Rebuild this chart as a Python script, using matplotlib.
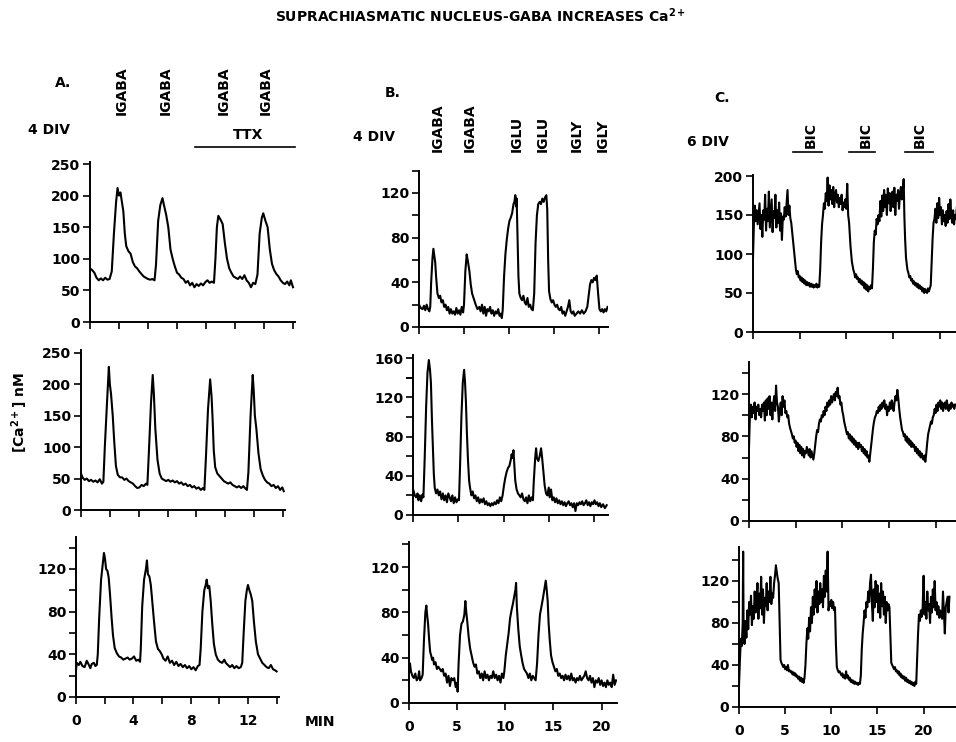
import matplotlib
matplotlib.use('Agg')
import matplotlib.pyplot as plt
from matplotlib.ticker import FixedLocator
from matplotlib.lines import Line2D

plt.rcParams['font.family'] = ['DejaVu Sans']
plt.rcParams['mathtext.default'] = 'regular'

# ---------------- data (time in min, [Ca2+] in nM) ----------------
A1 = [(0.0,85),(0.15,82),(0.3,78),(0.45,70),(0.6,66),(0.75,69),(0.9,66),(1.05,70),(1.2,67),(1.35,68),
      (1.5,80),(1.65,140),(1.8,190),(1.9,212),(2.0,200),(2.1,205),(2.2,190),(2.3,175),(2.4,140),(2.5,120),
      (2.65,112),(2.8,108),(2.95,95),(3.1,88),(3.25,85),(3.4,80),(3.55,76),(3.7,72),(3.85,70),(4.0,68),
      (4.15,67),(4.3,68),(4.45,66),(4.55,90),(4.7,160),(4.85,185),(5.0,196),(5.1,185),(5.25,170),(5.4,150),
      (5.55,115),(5.7,100),(5.85,88),(6.0,78),(6.15,75),(6.3,70),(6.45,68),(6.6,62),(6.75,65),(6.9,58),
      (7.05,62),(7.2,55),(7.35,60),(7.5,57),(7.65,61),(7.8,58),(7.95,63),(8.1,66),(8.25,62),(8.4,64),
      (8.55,62),(8.65,100),(8.75,150),(8.85,168),(9.0,162),(9.15,155),(9.3,125),(9.45,100),(9.6,85),
      (9.75,78),(9.9,72),(10.05,70),(10.2,68),(10.35,72),(10.5,68),(10.65,74),(10.8,66),(10.95,62),
      (11.1,55),(11.25,62),(11.4,60),(11.55,75),(11.7,140),(11.85,165),(11.95,172),(12.1,160),(12.25,150),
      (12.4,115),(12.55,92),(12.7,82),(12.85,76),(13.0,72),(13.15,66),(13.3,62),(13.45,60),(13.6,64),
      (13.75,58),(13.85,66),(14.0,55)]

A2 = [(0.0,58),(0.1,52),(0.25,48),(0.4,50),(0.55,46),(0.7,48),(0.85,45),(1.0,47),(1.15,44),(1.3,49),
      (1.45,42),(1.55,45),(1.65,100),(1.8,170),(1.93,228),(2.0,200),(2.08,185),(2.2,150),(2.3,110),
      (2.42,70),(2.55,56),(2.7,52),(2.85,52),(3.0,48),(3.15,50),(3.3,46),(3.45,44),(3.6,42),(3.75,38),
      (3.9,35),(4.05,36),(4.2,40),(4.35,38),(4.5,42),(4.6,40),(4.7,90),(4.85,170),(4.97,215),(5.05,185),
      (5.15,130),(5.3,80),(5.45,58),(5.6,50),(5.75,48),(5.9,46),(6.05,48),(6.2,45),(6.35,47),(6.5,44),
      (6.65,46),(6.8,42),(6.95,44),(7.1,40),(7.25,42),(7.4,38),(7.55,40),(7.7,36),(7.85,38),(8.0,34),
      (8.15,36),(8.3,32),(8.45,35),(8.55,32),(8.65,80),(8.8,160),(8.95,208),(9.05,180),(9.12,145),
      (9.2,95),(9.3,68),(9.45,58),(9.6,54),(9.75,50),(9.9,46),(10.05,44),(10.2,42),(10.35,44),(10.5,40),
      (10.65,38),(10.8,36),(10.95,38),(11.1,35),(11.25,38),(11.4,34),(11.5,32),(11.6,60),(11.75,150),
      (11.9,215),(11.97,190),(12.05,150),(12.15,130),(12.3,90),(12.45,65),(12.6,55),(12.75,48),(12.9,44),
      (13.05,42),(13.2,38),(13.35,40),(13.5,35),(13.65,38),(13.8,32),(13.95,36),(14.05,30)]

A3 = [(0.0,25),(0.05,32),(0.2,30),(0.3,33),(0.45,29),(0.6,28),(0.75,34),(0.9,30),(1.0,27),(1.1,31),
      (1.25,32),(1.35,29),(1.45,30),(1.52,40),(1.62,75),(1.75,110),(1.87,125),(1.95,135),(2.02,130),
      (2.1,120),(2.2,118),(2.28,112),(2.38,95),(2.48,75),(2.58,58),(2.7,46),(2.85,41),(3.0,38),(3.15,37),
      (3.3,35),(3.45,36),(3.6,37),(3.75,35),(3.9,36),(4.05,38),(4.2,34),(4.35,35),(4.47,33),(4.52,45),
      (4.62,85),(4.75,110),(4.88,120),(4.95,128),(5.02,115),(5.12,113),(5.22,105),(5.32,90),(5.45,70),
      (5.58,52),(5.72,45),(5.85,43),(5.98,40),(6.1,36),(6.25,34),(6.4,38),(6.55,32),(6.7,34),(6.85,30),
      (7.0,33),(7.15,29),(7.3,31),(7.45,28),(7.6,30),(7.75,27),(7.9,29),(8.05,26),(8.2,28),(8.35,25),
      (8.5,29),(8.62,30),(8.7,45),(8.82,80),(8.95,100),(9.05,105),(9.12,110),(9.2,102),(9.3,104),(9.4,90),
      (9.5,70),(9.62,50),(9.75,40),(9.9,35),(10.05,33),(10.2,32),(10.35,35),(10.45,32),(10.6,30),
      (10.75,28),(10.9,30),(11.05,27),(11.2,29),(11.35,27),(11.5,28),(11.6,32),(11.7,60),(11.82,90),
      (11.92,100),(12.0,105),(12.1,100),(12.2,96),(12.3,90),(12.42,70),(12.55,52),(12.7,40),(12.85,36),
      (13.0,32),(13.15,30),(13.3,28),(13.45,27),(13.6,30),(13.75,26),(13.9,25),(14.0,24)]

B1 = [(0.0,20),(0.2,17),(0.4,16),(0.55,19),(0.7,15),(0.85,20),(1.0,16),(1.15,14),(1.25,18),(1.35,40),
      (1.5,62),(1.6,70),(1.7,64),(1.8,58),(1.9,45),(2.05,30),(2.2,26),(2.35,28),(2.5,22),(2.65,24),
      (2.8,18),(2.95,20),(3.1,15),(3.25,18),(3.4,12),(3.55,16),(3.7,12),(3.85,14),(4.0,11),(4.15,17),
      (4.3,12),(4.45,15),(4.6,11),(4.75,18),(4.9,13),(5.0,20),(5.15,50),(5.3,65),(5.45,58),(5.6,50),
      (5.75,38),(5.9,30),(6.1,25),(6.3,20),(6.5,16),(6.7,18),(6.85,14),(7.0,20),(7.15,12),(7.3,18),
      (7.45,10),(7.6,16),(7.75,14),(7.9,18),(8.05,12),(8.2,15),(8.35,10),(8.5,14),(8.65,12),(8.8,16),
      (8.95,10),(9.1,12),(9.2,8),(9.3,15),(9.45,45),(9.6,65),(9.75,78),(9.9,88),(10.05,95),(10.2,98),
      (10.35,102),(10.5,110),(10.6,112),(10.7,118),(10.78,108),(10.85,115),(10.95,80),(11.05,45),
      (11.15,30),(11.3,26),(11.45,24),(11.6,28),(11.75,22),(11.9,20),(12.05,26),(12.2,18),(12.35,20),
      (12.5,16),(12.65,15),(12.8,30),(12.95,75),(13.1,100),(13.25,110),(13.4,112),(13.55,110),(13.7,115),
      (13.85,112),(14.0,116),(14.15,118),(14.25,105),(14.35,60),(14.45,32),(14.6,25),(14.75,22),
      (14.9,24),(15.05,20),(15.2,18),(15.35,20),(15.5,16),(15.65,15),(15.8,18),(15.95,12),(16.1,14),
      (16.25,10),(16.4,14),(16.55,18),(16.7,24),(16.85,14),(17.0,12),(17.15,14),(17.3,10),(17.5,12),
      (17.7,14),(17.9,12),(18.1,15),(18.3,12),(18.5,14),(18.7,18),(18.85,28),(19.0,38),(19.15,42),
      (19.3,40),(19.45,44),(19.6,42),(19.75,46),(19.9,30),(20.05,16),(20.2,14),(20.35,16),(20.5,13),
      (20.65,16),(20.8,14),(20.95,18)]

B2 = [(0.05,25),(0.2,20),(0.35,18),(0.5,22),(0.6,15),(0.75,20),(0.9,14),(1.05,21),(1.15,18),
      (1.3,60),(1.45,110),(1.6,145),(1.75,158),(1.88,148),(1.98,135),(2.1,95),(2.2,70),(2.3,42),(2.4,28),
      (2.55,22),(2.7,26),(2.85,20),(3.0,24),(3.15,16),(3.3,22),(3.45,15),(3.6,20),(3.75,13),(3.9,22),
      (4.05,18),(4.2,14),(4.35,20),(4.5,12),(4.65,18),(4.8,13),(4.95,16),(5.08,15),
      (5.2,50),(5.35,100),(5.5,135),(5.65,148),(5.75,135),(5.85,115),(5.95,85),(6.08,55),(6.2,35),(6.3,28),
      (6.45,20),(6.6,24),(6.75,17),(6.9,20),(7.05,14),(7.2,18),(7.35,12),(7.5,16),(7.65,13),(7.8,17),
      (7.95,11),(8.1,14),(8.25,10),(8.4,12),(8.55,9),(8.7,12),(8.85,10),(9.0,13),(9.15,11),(9.3,15),
      (9.45,12),(9.6,18),(9.75,14),(9.9,20),
      (10.05,30),(10.2,38),(10.35,44),(10.5,48),(10.65,50),(10.8,56),(10.9,62),(11.0,58),(11.1,66),
      (11.2,50),(11.3,35),(11.45,26),
      (11.6,22),(11.75,20),(11.9,18),(12.05,22),(12.2,16),(12.35,14),(12.5,18),(12.65,12),(12.8,20),
      (12.95,14),(13.1,18),(13.25,15),
      (13.35,35),(13.5,58),(13.6,68),(13.7,58),(13.85,55),(14.0,60),(14.15,68),(14.25,60),(14.4,45),
      (14.55,30),(14.7,22),
      (14.85,20),(15.0,28),(15.1,18),(15.25,26),(15.4,15),(15.55,18),(15.7,13),(15.85,17),(16.0,12),
      (16.15,15),(16.3,11),(16.45,14),(16.6,10),(16.75,13),(16.9,9),(17.05,12),(17.2,14),(17.35,10),
      (17.5,12),(17.65,8),(17.8,12),(17.95,4),(18.1,12),(18.25,10),(18.4,13),(18.55,11),(18.7,14),
      (18.85,10),(19.0,12),(19.15,15),(19.3,10),(19.45,13),(19.6,9),(19.75,13),(19.9,11),(20.05,15),
      (20.2,11),(20.35,13),(20.5,9),(20.65,12),(20.8,8),(21.0,11),(21.2,7),(21.4,10)]

B3 = [(0.0,26),(0.1,35),(0.2,28),(0.35,24),(0.5,22),(0.65,26),(0.8,20),(0.95,22),(1.05,28),(1.15,20),
      (1.3,22),(1.42,25),(1.55,55),(1.7,80),(1.8,86),(1.88,78),(1.98,70),(2.1,55),(2.2,45),(2.3,42),
      (2.4,38),(2.5,40),(2.6,34),(2.75,36),(2.9,30),(3.05,32),(3.2,30),(3.35,28),(3.5,30),(3.65,24),
      (3.8,26),(3.95,18),(4.1,24),(4.25,15),(4.4,22),(4.55,20),(4.7,22),(4.85,14),(5.0,18),(5.05,10),
      (5.15,35),(5.3,60),(5.45,70),(5.6,72),(5.75,78),(5.85,90),(5.95,80),(6.05,72),(6.2,58),(6.35,48),
      (6.5,42),(6.65,36),(6.8,32),(6.95,34),(7.1,26),(7.25,28),(7.4,22),(7.55,26),(7.7,20),(7.85,28),
      (8.0,22),(8.15,25),(8.3,20),(8.45,24),(8.6,22),(8.75,28),(8.9,22),(9.05,25),(9.2,20),(9.35,24),
      (9.5,18),(9.65,26),(9.8,22),(9.9,28),(10.05,42),(10.2,52),(10.35,62),(10.5,75),(10.65,82),
      (10.8,88),(10.95,95),(11.05,100),(11.12,106),(11.2,85),(11.35,65),(11.5,50),(11.65,42),(11.8,35),
      (11.95,30),(12.1,28),(12.25,26),(12.4,22),(12.55,26),(12.7,20),(12.85,24),(13.0,22),(13.15,20),
      (13.3,35),(13.45,60),(13.6,78),(13.75,85),(13.9,92),(14.05,100),(14.2,108),(14.3,100),(14.4,90),
      (14.5,70),(14.62,55),(14.75,42),(14.9,36),(15.05,32),(15.2,28),(15.35,30),(15.5,24),(15.65,26),
      (15.8,22),(15.95,24),(16.1,20),(16.25,25),(16.4,21),(16.55,24),(16.7,20),(16.85,26),(17.0,20),
      (17.15,22),(17.3,18),(17.45,22),(17.6,20),(17.75,24),(17.9,20),(18.05,22),(18.2,24),(18.35,28),
      (18.5,22),(18.65,20),(18.8,24),(18.95,18),(19.1,22),(19.25,14),(19.4,20),(19.55,18),(19.7,22),
      (19.85,16),(20.0,20),(20.15,15),(20.3,18),(20.45,14),(20.6,20),(20.75,16),(20.9,18),(21.05,14),
      (21.2,25),(21.35,16),(21.5,20)]

C1 = [(0.0,95),(0.1,140),(0.2,162),(0.3,142),(0.4,156),(0.5,138),(0.6,152),(0.7,165),(0.8,132),
      (0.9,150),(1.0,122),(1.1,156),(1.2,144),(1.3,176),(1.4,130),(1.5,158),(1.6,142),(1.7,180),
      (1.8,134),(1.9,152),(2.0,170),(2.1,128),(2.2,155),(2.3,146),(2.4,176),(2.5,134),(2.6,156),
      (2.7,140),(2.8,166),(2.9,130),(3.0,152),(3.1,118),(3.2,148),(3.3,144),(3.4,160),(3.5,148),
      (3.6,166),(3.7,182),(3.8,150),(3.9,162),(4.0,146),(4.1,140),(4.2,128),
      (4.35,110),(4.5,92),(4.6,80),(4.7,74),
      (4.8,78),(4.9,70),(5.0,72),(5.1,66),(5.2,70),(5.3,64),(5.4,68),(5.5,62),(5.6,66),(5.7,60),
      (5.8,64),(5.9,60),(6.0,63),(6.1,58),(6.2,62),(6.3,58),(6.4,61),(6.5,57),(6.6,60),(6.7,58),
      (6.8,62),(6.9,57),(7.0,60),(7.1,58),
      (7.2,80),(7.3,115),(7.4,138),(7.5,150),
      (7.6,165),(7.7,158),(7.8,178),(7.9,168),(8.0,198),(8.1,162),(8.2,188),(8.3,170),(8.4,182),
      (8.5,164),(8.6,186),(8.7,160),(8.8,176),(8.9,182),(9.0,166),(9.1,176),(9.2,160),(9.3,172),
      (9.4,164),(9.5,176),(9.6,156),(9.7,166),(9.8,160),(9.9,170),(10.0,158),(10.1,190),(10.2,150),
      (10.3,140),(10.45,110),(10.6,90),(10.75,80),
      (10.85,76),(10.95,70),(11.05,74),(11.15,68),(11.25,70),(11.35,64),(11.45,68),(11.55,62),
      (11.65,66),(11.75,60),(11.85,64),(11.95,56),(12.05,62),(12.15,54),(12.25,60),(12.35,52),
      (12.45,58),(12.55,55),(12.65,60),(12.75,56),
      (12.85,80),(12.95,115),(13.05,130),(13.15,125),(13.25,145),
      (13.35,138),(13.45,150),(13.55,142),(13.65,168),(13.75,148),(13.85,175),(13.95,155),(14.05,182),
      (14.15,160),(14.25,176),(14.35,150),(14.45,184),(14.55,165),(14.65,178),(14.75,155),(14.85,172),
      (14.95,180),(15.05,160),(15.15,185),(15.25,150),(15.35,176),(15.45,168),(15.55,182),(15.65,158),
      (15.75,176),(15.85,186),(15.95,170),(16.05,180),(16.15,196),(16.22,150),
      (16.3,120),(16.4,95),(16.55,80),
      (16.65,76),(16.75,70),(16.85,72),(16.95,66),(17.05,68),(17.15,62),(17.25,65),(17.35,60),
      (17.45,63),(17.55,58),(17.65,62),(17.75,56),(17.85,60),(17.95,55),(18.05,58),(18.15,52),
      (18.25,56),(18.35,50),(18.45,55),(18.55,52),(18.65,50),(18.75,56),(18.85,52),(18.95,56),(19.05,60),
      (19.15,90),(19.25,120),(19.35,140),(19.45,145),
      (19.55,158),(19.65,140),(19.75,165),(19.85,146),(19.95,172),(20.05,150),(20.15,160),(20.25,138),
      (20.35,156),(20.45,142),(20.55,150),(20.65,136),(20.75,155),(20.85,140),(20.95,164),(21.05,145),
      (21.15,170),(21.25,150),(21.35,140),(21.45,156),(21.55,138),(21.65,150),(21.75,145),(21.85,160)]

C2 = [(0.0,70),(0.1,100),(0.2,110),(0.3,98),(0.4,108),(0.5,102),(0.6,112),(0.7,96),(0.8,108),(0.9,104),
      (1.0,110),(1.1,100),(1.2,106),(1.3,98),(1.4,110),(1.5,104),(1.6,112),(1.7,95),(1.8,114),(1.9,100),
      (2.0,116),(2.1,106),(2.2,118),(2.3,100),(2.4,112),(2.5,96),(2.6,110),(2.7,118),(2.8,104),(2.9,128),
      (3.0,112),(3.1,108),(3.2,94),(3.3,104),(3.4,112),(3.5,100),(3.6,118),(3.7,108),(3.8,114),(3.9,102),
      (4.0,104),(4.1,98),(4.2,100),(4.3,92),(4.4,88),(4.5,85),(4.6,82),(4.7,78),(4.8,80),(4.9,74),
      (5.0,76),(5.1,70),(5.2,74),(5.3,66),(5.4,72),(5.5,64),(5.6,70),(5.7,62),(5.8,68),(5.9,60),
      (6.0,66),(6.1,64),(6.2,70),(6.3,66),(6.4,62),(6.5,68),(6.6,60),(6.7,66),(6.8,62),(6.9,58),
      (7.0,64),(7.1,72),(7.2,80),(7.3,86),(7.4,84),(7.5,92),(7.6,96),(7.7,94),(7.8,100),(7.9,98),
      (8.0,104),(8.1,100),(8.2,108),(8.3,104),(8.4,112),(8.5,108),(8.6,114),(8.7,110),(8.8,118),
      (8.9,112),(9.0,116),(9.1,120),(9.2,114),(9.3,122),(9.4,118),(9.5,126),(9.6,116),(9.7,118),
      (9.8,110),(9.9,112),(10.0,104),(10.1,100),(10.2,94),(10.3,90),(10.4,86),(10.5,82),(10.6,84),
      (10.7,78),(10.8,82),(10.9,76),(11.0,80),(11.1,74),(11.2,78),(11.3,72),(11.4,76),(11.5,70),
      (11.6,74),(11.7,68),(11.8,74),(11.9,70),(12.0,72),(12.1,66),(12.2,70),(12.3,64),(12.4,68),
      (12.5,62),(12.6,66),(12.7,60),(12.8,62),(12.9,56),(13.0,64),(13.1,72),(13.2,80),(13.3,88),
      (13.4,94),(13.5,98),(13.6,100),(13.7,104),(13.8,102),(13.9,108),(14.0,104),(14.1,110),(14.2,106),
      (14.3,112),(14.4,108),(14.5,114),(14.6,106),(14.7,110),(14.8,100),(14.9,108),(15.0,104),
      (15.1,112),(15.2,106),(15.3,114),(15.4,110),(15.5,104),(15.6,112),(15.7,118),(15.8,114),
      (15.9,124),(16.0,116),(16.1,106),(16.2,98),(16.3,92),(16.4,86),(16.5,84),(16.6,80),(16.7,82),
      (16.8,76),(16.9,80),(17.0,74),(17.1,78),(17.2,72),(17.3,76),(17.4,70),(17.5,74),(17.6,70),
      (17.7,72),(17.8,66),(17.9,70),(18.0,64),(18.1,68),(18.2,62),(18.3,66),(18.4,60),(18.5,64),
      (18.6,60),(18.7,58),(18.8,62),(18.9,56),(19.0,64),(19.1,74),(19.2,82),(19.3,86),(19.4,90),
      (19.5,94),(19.6,92),(19.7,98),(19.8,100),(19.9,106),(20.0,102),(20.1,110),(20.2,104),(20.3,112),
      (20.4,108),(20.5,114),(20.6,106),(20.7,112),(20.8,104),(20.9,110),(21.0,112),(21.1,106),
      (21.2,114),(21.3,108),(21.4,104),(21.5,110),(21.6,106),(21.7,112),(21.8,108),(21.9,110),
      (22.0,106),(22.1,110)]

C3 = [(0.0,20),(0.1,45),(0.2,65),(0.3,58),(0.4,80),(0.45,148),(0.5,70),(0.6,60),(0.7,82),(0.8,66),
      (0.9,92),(1.0,74),(1.1,100),(1.2,88),(1.3,106),(1.4,78),(1.5,96),(1.6,84),(1.7,110),(1.8,90),
      (1.9,102),(2.0,118),(2.1,84),(2.2,108),(2.3,94),(2.4,124),(2.5,88),(2.6,112),(2.7,80),(2.8,104),
      (2.9,96),(3.0,118),(3.1,92),(3.2,110),(3.3,100),(3.4,124),(3.5,98),(3.6,108),(3.7,104),(3.8,118),
      (3.9,125),(4.0,135),(4.1,128),(4.2,122),(4.3,118),(4.4,80),(4.5,45),(4.6,42),(4.7,40),(4.8,38),
      (4.9,40),(5.0,36),(5.1,38),(5.2,35),(5.3,40),(5.4,34),(5.5,35),(5.6,33),(5.7,34),(5.8,31),
      (5.9,33),(6.0,30),(6.1,32),(6.2,29),(6.3,30),(6.4,27),(6.5,29),(6.6,25),(6.7,28),(6.8,24),
      (6.9,27),(7.0,23),(7.1,28),(7.2,40),(7.3,60),(7.4,75),(7.5,65),(7.6,85),(7.7,72),(7.8,95),
      (7.9,80),(8.0,105),(8.1,88),(8.2,112),(8.3,95),(8.4,120),(8.5,90),(8.6,110),(8.7,98),(8.8,118),
      (8.9,100),(9.0,112),(9.1,95),(9.2,125),(9.3,105),(9.4,130),(9.5,110),(9.6,148),(9.7,92),
      (9.8,100),(9.9,96),(10.0,102),(10.1,94),(10.2,100),(10.3,92),(10.4,95),(10.5,60),(10.6,38),
      (10.7,35),(10.8,33),(10.9,34),(11.0,32),(11.1,30),(11.2,32),(11.3,28),(11.4,30),(11.5,27),
      (11.6,34),(11.7,28),(11.8,30),(11.9,26),(12.0,28),(12.1,24),(12.2,26),(12.3,23),(12.4,25),
      (12.5,22),(12.6,24),(12.7,22),(12.8,23),(12.9,21),(13.0,23),(13.1,22),(13.2,30),(13.3,55),
      (13.4,70),(13.5,80),(13.6,92),(13.7,85),(13.8,100),(13.9,95),(14.0,110),(14.1,100),(14.2,118),
      (14.3,126),(14.4,98),(14.5,82),(14.6,112),(14.7,95),(14.8,120),(14.9,100),(15.0,116),(15.1,90),
      (15.2,108),(15.3,85),(15.4,118),(15.5,96),(15.6,110),(15.7,88),(15.8,105),(15.9,80),(16.0,100),
      (16.1,92),(16.2,98),(16.3,95),(16.4,70),(16.5,42),(16.6,40),(16.7,38),(16.8,36),(16.9,38),
      (17.0,34),(17.1,35),(17.2,32),(17.3,34),(17.4,30),(17.5,32),(17.6,28),(17.7,30),(17.8,27),
      (17.9,29),(18.0,25),(18.1,28),(18.2,24),(18.3,26),(18.4,23),(18.5,25),(18.6,22),(18.7,24),
      (18.8,21),(18.9,23),(19.0,20),(19.1,24),(19.2,22),(19.3,45),(19.4,70),(19.5,88),(19.6,82),
      (19.7,92),(19.8,86),(19.9,95),(20.0,125),(20.1,88),(20.2,100),(20.3,84),(20.4,110),(20.5,92),
      (20.6,98),(20.7,80),(20.8,105),(20.9,90),(21.0,112),(21.1,95),(21.2,120),(21.3,92),(21.4,100),
      (21.5,88),(21.6,96),(21.7,85),(21.8,92),(21.9,88),(22.0,84),(22.1,110),(22.2,90),(22.3,70),
      (22.4,95),(22.5,100),(22.6,105),(22.7,90),(22.8,105)]

# tick values / labels
yt_A12 = [0, 50, 100, 150, 200, 250]
yt_120 = [0, 40, 80, 120]
yt_160 = [0, 40, 80, 120, 160]
yt_200 = [0, 50, 100, 150, 200]
ym_20 = [20, 60, 100, 140]
xt_A = [0, 2, 4, 6, 8, 10, 12, 14]
xl_A = ['0', '', '4', '', '8', '', '12', '']
xt_BC = [0, 5, 10, 15, 20]
xl_BC = ['0', '5', '10', '15', '20']

title = "SUPRACHIASMATIC NUCLEUS-GABA INCREASES Ca$^{2+}$"
ylabel = "[Ca$^{2+}$] nM"
labels_A = ["IGABA", "IGABA", "IGABA", "IGABA"]
labels_B = ["IGABA", "IGABA", "IGLU", "IGLU", "IGLY", "IGLY"]
labels_C = ["BIC", "BIC", "BIC"]

# ---------------- figure ----------------
W, H = 956, 742
fig = plt.figure(figsize=(W / 100, H / 100), dpi=100)
fig.patch.set_facecolor('white')

TF = dict(fontsize=10, fontweight='bold', color='black')


def ftext(x, y, s, **kw):
    fig.text(x / W, 1 - y / H, s, **kw)


def panel(x0, y0, sx, sy, xmax, ymax, trace, yticks, yminor):
    ax = fig.add_axes([x0 / W, (H - y0) / H, xmax * sx / W, ymax * sy / H])
    ax.patch.set_visible(False)
    t = [p[0] for p in trace]
    v = [p[1] for p in trace]
    ax.plot(t, v, color='black', lw=1.5)
    ax.set_xlim(0, xmax)
    ax.set_ylim(0, ymax)
    for s in ['top', 'right']:
        ax.spines[s].set_visible(False)
    for s in ['left', 'bottom']:
        ax.spines[s].set_linewidth(1.4)
    ax.set_yticks(yticks)
    ax.set_yticklabels([str(y) for y in yticks], **TF)
    if yminor:
        ax.yaxis.set_minor_locator(FixedLocator(yminor))
    return ax


def set_x(ax, ticks, labels, show):
    ax.set_xticks(ticks)
    if show:
        ax.set_xticklabels(labels, **TF)
    else:
        ax.set_xticklabels([])
    ax.tick_params(which='both', direction='out', length=5, width=1.2)
    ax.tick_params(axis='y', pad=2)
    ax.tick_params(axis='x', pad=7)


# column A
a1 = panel(90, 322, 14.5, 0.632, 14.15, 253, A1, yt_A12, None)
set_x(a1, xt_A, xl_A, False)
a2 = panel(81, 510, 14.43, 0.628, 14.15, 255, A2, yt_A12, None)
set_x(a2, xt_A, xl_A, False)
a3 = panel(76, 697, 14.33, 1.067, 14.15, 150, A3, yt_120, ym_20)
set_x(a3, xt_A, xl_A, True)

# column B
b1 = panel(419, 327, 9.0, 1.117, 21.0, 140, B1, yt_120, ym_20)
set_x(b1, xt_BC, xl_BC, False)
b2 = panel(413, 515, 9.05, 0.981, 21.6, 163, B2, yt_160, ym_20 + [140])
set_x(b2, xt_BC, xl_BC, False)
b3 = panel(409, 703, 9.63, 1.133, 21.6, 142, B3, yt_120, ym_20)
set_x(b3, xt_BC, xl_BC, True)

# column C
c1 = panel(753, 332, 9.33, 0.78, 22.5, 201, C1, yt_200, None)
set_x(c1, xt_BC, xl_BC, False)
c2 = panel(749, 521, 9.33, 1.058, 22.5, 150, C2, yt_120, ym_20)
set_x(c2, xt_BC, xl_BC, False)
c3 = panel(739, 707, 9.23, 1.05, 23.6, 152, C3, yt_120, ym_20)
set_x(c3, xt_BC, xl_BC, True)

# ---------------- annotations ----------------
ftext(481, 16, title, fontsize=10, fontweight='bold', ha='center', va='center', color='black')
ftext(20, 413, ylabel, rotation=90, ha='center', va='center', **TF)

ftext(55, 83, "A.", ha='left', va='center', **TF)
ftext(28, 130, "4 DIV", ha='left', va='center', **TF)
for x, s in zip([122, 166, 224, 266], labels_A):
    ftext(x, 115, s, rotation=90, ha='center', va='bottom', **TF)
ftext(248, 135, "TTX", ha='center', va='center', **TF)
fig.add_artist(Line2D([195 / W, 295 / W], [1 - 147 / H, 1 - 147 / H], color='black', lw=1.2))

ftext(385, 93, "B.", ha='left', va='center', **TF)
ftext(353, 137, "4 DIV", ha='left', va='center', **TF)
for x, s in zip([438, 470, 517, 543, 577, 603], labels_B):
    ftext(x, 152, s, rotation=90, ha='center', va='bottom', **TF)

ftext(714, 98, "C.", ha='left', va='center', **TF)
ftext(687, 142, "6 DIV", ha='left', va='center', **TF)
for x, s in zip([811, 866, 920], labels_C):
    ftext(x, 148, s, rotation=90, ha='center', va='bottom', **TF)
for xa, xb in [(793, 822), (849, 875), (905, 933)]:
    fig.add_artist(Line2D([xa / W, xb / W], [1 - 152 / H, 1 - 152 / H], color='black', lw=1.2))

ftext(305, 722, "MIN", ha='left', va='center', **TF)

fig.savefig('out.png', dpi=100, facecolor='white')
